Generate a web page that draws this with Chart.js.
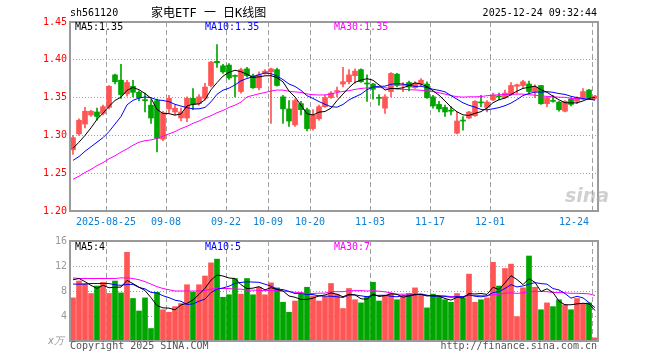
<!DOCTYPE html>
<html>
<head>
<meta charset="utf-8">
<script src="https://cdn.jsdelivr.net/npm/chart.js@4.4.1/dist/chart.umd.min.js"></script>
<style>
  body { margin: 0; background: #fff; }
  #wrap { position: relative; width: 660px; height: 360px; overflow: hidden; font-family: 'DejaVu Sans Mono', monospace; font-size: 10px; }
  #wrap canvas { position: absolute; left: 0; }
  .t { position: absolute; white-space: pre; line-height: 12px; height: 12px; }
</style>
</head>
<body>
<div id="wrap">
  <canvas id="kline" width="660" height="232" style="top:0"></canvas>
  <canvas id="vol" width="660" height="128" style="top:232px"></canvas>

  <div class="t" style="left:70px;top:7px;color:#000">sh561120</div>
  <div class="t" style="left:151px;top:6px;line-height:14px;height:14px;font-size:12px;font-family:'DejaVu Sans Mono','Noto Sans CJK SC';color:#000">家电ETF 一 日K线图</div>
  <div class="t" style="right:63px;top:7px;color:#000">2025-12-24 09:32:44</div>

  <div class="t" style="left:75px;top:21px;color:#000">MA5:1.35</div>
  <div class="t" style="left:205px;top:21px;color:#0000ff">MA10:1.35</div>
  <div class="t" style="left:334px;top:21px;color:#ff00ff">MA30:1.35</div>

  <div class="t" style="left:565px;top:184px;font:italic bold 19px 'DejaVu Sans';line-height:22px;height:22px;color:rgba(170,170,170,0.55)">sina</div>

  <div class="t" style="left:75px;top:241px;color:#000">MA5:4</div>
  <div class="t" style="left:205px;top:241px;color:#0000ff">MA10:5</div>
  <div class="t" style="left:334px;top:241px;color:#ff00ff">MA30:7</div>

  <div class="t" style="left:48px;top:335px;color:#999;font-style:italic">x万</div>
  <div class="t" style="left:70px;top:340px;color:#555">Copyright 2025 SINA.COM</div>
  <div class="t" style="right:63px;top:340px;color:#555">http://finance.sina.com.cn</div>
</div>

<script>
// 交易日 2025-08-15 ~ 2025-12-24
const dates = [
  '08-15','08-18','08-19','08-20','08-21','08-22','08-25','08-26','08-27','08-28','08-29',
  '09-01','09-02','09-03','09-04','09-05','09-08','09-09','09-10','09-11','09-12',
  '09-15','09-16','09-17','09-18','09-19','09-22','09-23','09-24','09-25','09-26','09-29','09-30',
  '10-09','10-10','10-13','10-14','10-15','10-16','10-17','10-20','10-21','10-22','10-23','10-24',
  '10-27','10-28','10-29','10-30','10-31',
  '11-03','11-04','11-05','11-06','11-07','11-10','11-11','11-12','11-13','11-14',
  '11-17','11-18','11-19','11-20','11-21','11-24','11-25','11-26','11-27','11-28',
  '12-01','12-02','12-03','12-04','12-05','12-08','12-09','12-10','12-11','12-12',
  '12-15','12-16','12-17','12-18','12-19','12-22','12-23','12-24'
];

const tickDates = ['08-25','09-08','09-22','10-09','10-20','11-03','11-17','12-01','12-24'];
const tickLabels = ['2025-08-25','09-08','09-22','10-09','10-20','11-03','11-17','12-01','12-24'];

const open = [1.281,1.302,1.315,1.327,1.331,1.329,1.337,1.380,1.373,1.355,
  1.365,1.357,1.347,1.340,1.346,1.295,1.335,1.331,1.323,1.323,
  1.349,1.342,1.349,1.366,1.398,1.392,1.393,1.379,1.358,1.388,
  1.379,1.363,1.382,1.384,1.387,1.351,1.335,1.314,1.342,1.334,
  1.309,1.322,1.338,1.350,1.358,1.368,1.371,1.379,1.387,1.369,
  1.368,1.350,1.336,1.358,1.381,1.366,1.370,1.363,1.368,1.368,
  1.351,1.341,1.337,1.333,1.303,1.320,1.323,1.326,1.344,1.337,
  1.347,1.352,1.350,1.354,1.365,1.366,1.368,1.358,1.366,1.342,
  1.346,1.344,1.332,1.348,1.345,1.350,1.360,1.349];

const high = [1.300,1.322,1.337,1.333,1.336,1.340,1.366,1.381,1.394,1.373,
  1.373,1.359,1.356,1.347,1.348,1.332,1.353,1.340,1.336,1.351,
  1.362,1.354,1.369,1.398,1.420,1.394,1.395,1.380,1.389,1.390,
  1.381,1.384,1.387,1.389,1.389,1.353,1.346,1.348,1.345,1.336,
  1.334,1.340,1.353,1.358,1.364,1.390,1.387,1.388,1.388,1.380,
  1.369,1.354,1.354,1.383,1.382,1.370,1.372,1.371,1.375,1.371,
  1.353,1.345,1.340,1.338,1.331,1.325,1.332,1.346,1.353,1.346,
  1.356,1.356,1.360,1.370,1.368,1.373,1.372,1.367,1.366,1.351,
  1.353,1.345,1.346,1.350,1.351,1.362,1.361,1.353];

const low = [1.275,1.300,1.310,1.325,1.320,1.327,1.335,1.368,1.349,1.352,
  1.351,1.346,1.331,1.316,1.278,1.293,1.330,1.327,1.319,1.318,
  1.334,1.340,1.347,1.364,1.390,1.382,1.374,1.351,1.356,1.377,
  1.362,1.360,1.381,1.316,1.365,1.316,1.312,1.312,1.327,1.306,
  1.307,1.320,1.337,1.349,1.351,1.364,1.368,1.369,1.370,1.345,
  1.348,1.340,1.329,1.351,1.364,1.358,1.359,1.362,1.365,1.349,
  1.336,1.331,1.325,1.327,1.302,1.307,1.322,1.325,1.338,1.331,
  1.346,1.347,1.349,1.353,1.356,1.363,1.356,1.350,1.341,1.338,
  1.344,1.332,1.331,1.339,1.342,1.348,1.349,1.348];

const close = [1.297,1.320,1.332,1.332,1.325,1.338,1.365,1.371,1.354,1.370,
  1.357,1.350,1.346,1.323,1.296,1.330,1.349,1.336,1.331,1.349,
  1.341,1.351,1.364,1.397,1.396,1.384,1.376,1.378,1.387,1.379,
  1.363,1.380,1.385,1.388,1.366,1.335,1.319,1.346,1.334,1.309,
  1.327,1.338,1.350,1.356,1.359,1.371,1.380,1.385,1.371,1.368,
  1.361,1.349,1.351,1.382,1.366,1.367,1.364,1.369,1.373,1.350,
  1.339,1.335,1.331,1.332,1.319,1.319,1.331,1.345,1.343,1.344,
  1.353,1.351,1.356,1.366,1.367,1.371,1.358,1.364,1.342,1.350,
  1.345,1.334,1.345,1.341,1.350,1.358,1.350,1.352];

// 成交量 (万)
const volume = [6.9,9.6,9.2,7.6,8.8,9.4,7.6,9.6,7.7,14.2,
  6.8,4.8,6.9,2.0,7.8,5.0,4.6,5.5,6.0,9.0,
  7.8,9.0,10.4,12.5,13.1,7.0,7.4,10.0,7.5,10.0,
  7.4,8.6,7.4,9.3,8.5,6.2,4.6,6.4,7.5,8.6,
  7.2,6.4,7.1,9.2,7.5,5.2,8.4,6.6,6.1,7.1,
  9.4,6.4,7.3,7.6,6.6,7.1,7.6,8.5,7.5,5.3,
  7.5,7.1,6.6,6.2,7.6,6.9,10.7,6.2,6.6,6.9,
  12.6,8.8,11.6,12.3,3.9,8.5,13.6,8.6,5.0,6.1,
  5.5,6.6,5.8,5.0,6.8,6.0,6.1,0.5];

// 均线起始段 (窗口之前的数据不在图内, 从图上读取)
const ma5Head = [1.283,1.291,1.300,1.310];
const ma10Head = [1.267,1.272,1.279,1.285,1.291,1.297,1.305,1.315,1.325];
const ma30Head = [1.242,1.246,1.251,1.255,1.260,1.264,1.269,1.273,1.278,1.282,
  1.287,1.291,1.293,1.294,1.296,1.299,1.302,1.305,1.309,1.312,
  1.316,1.319,1.323,1.326,1.330,1.333,1.337,1.340,1.344];
const vma5Head = [9.8,10.0,9.5,8.9];
const vma10Head = [9.1,9.1,9.1,9.2,9.2,9.2,9.2,9.0,8.9];
const vma30Head = [10.1,10.0,10.0,10.0,10.0,10.0,10.0,10.0,10.1,10.1,
  10.0,9.8,9.5,9.1,8.7,8.4,8.2,8.0,8.0,8.0,
  8.0,8.0,8.1,8.3,8.4,8.4,8.4,8.3,8.3];

const RED = '#ff5555';
const GREEN = '#00a600';
const GRID = '#a0a0a0';
const BOX = '#9a9a9a';

function movingAvg(arr, n, head) {
  return arr.map((v, i) => {
    if (i < n - 1) return head[i];
    let s = 0;
    for (let k = i - n + 1; k <= i; k++) s += arr[k];
    return s / n;
  });
}

const upDown = dates.map((d, i) => close[i] >= open[i] ? RED : GREEN);
const tickIdx = tickDates.map(d => dates.indexOf(d));

Chart.defaults.font.family = "'DejaVu Sans Mono', monospace";
Chart.defaults.font.size = 10;

// 外框
const boxPlugin = {
  id: 'box',
  afterDraw(chart) {
    const a = chart.chartArea;
    const c = chart.ctx;
    c.save();
    c.strokeStyle = BOX;
    c.lineWidth = 2;
    c.strokeRect(a.left, a.top, a.right - a.left, a.bottom - a.top);
    c.restore();
  }
};

function xScale(showLabels) {
  return {
    offset: true,
    grid: {
      offset: true,
      drawTicks: false,
      lineWidth: 1,
      color: ctx => tickIdx.includes(ctx.index) ? GRID : 'rgba(0,0,0,0)'
    },
    border: { display: false, dash: [5, 3] },
    ticks: {
      display: showLabels,
      autoSkip: false,
      maxRotation: 0,
      padding: 5,
      labelOffset: -3,
      color: '#0a7fd8',
      callback: (v, i) => {
        const k = tickIdx.indexOf(i);
        if (k < 0) return '';
        return k === tickIdx.length - 1 ? tickLabels[k] + '      ' : tickLabels[k];
      }
    },
    afterFit: s => { s.height = showLabels ? 21 : 19; }
  };
}

const baseOpts = {
  responsive: false,
  animation: false,
  events: [],
  plugins: { legend: { display: false }, tooltip: { enabled: false } }
};

function line(data, color) {
  return { type: 'line', data, borderColor: color, borderWidth: 1, pointRadius: 0, tension: 0, order: 0 };
}

new Chart(document.getElementById('kline'), {
  type: 'bar',
  data: {
    labels: dates,
    datasets: [
      line(movingAvg(close, 5, ma5Head), '#000000'),
      line(movingAvg(close, 10, ma10Head), '#0000ff'),
      line(movingAvg(close, 30, ma30Head), '#ff00ff'),
      {
        data: dates.map((d, i) => [low[i], high[i]]),
        backgroundColor: upDown,
        barThickness: 1,
        grouped: false,
        order: 2
      },
      {
        data: dates.map((d, i) => [open[i], close[i]]),
        backgroundColor: upDown,
        barThickness: 5,
        minBarLength: 1,
        grouped: false,
        order: 1
      }
    ]
  },
  options: {
    ...baseOpts,
    layout: { padding: { left: 0, right: 62, top: 22, bottom: 0 } },
    scales: {
      x: xScale(true),
      y: {
        min: 1.2,
        max: 1.45,
        ticks: { stepSize: 0.05, color: '#ff0000', padding: 3, callback: v => v.toFixed(2) },
        grid: {
          drawTicks: false,
          color: ctx => (ctx.tick && (ctx.tick.value <= 1.2001 || ctx.tick.value >= 1.4499)) ? 'rgba(0,0,0,0)' : GRID
        },
        border: { display: false, dash: [1, 2] },
        afterFit: s => { s.width = 70; }
      }
    }
  },
  plugins: [boxPlugin]
});

new Chart(document.getElementById('vol'), {
  type: 'bar',
  data: {
    labels: dates,
    datasets: [
      line(movingAvg(volume, 5, vma5Head), '#000000'),
      line(movingAvg(volume, 10, vma10Head), '#0000ff'),
      line(movingAvg(volume, 30, vma30Head), '#ff00ff'),
      {
        data: volume,
        backgroundColor: upDown,
        barThickness: 5,
        order: 1
      }
    ]
  },
  options: {
    ...baseOpts,
    layout: { padding: { left: 0, right: 62, top: 8, bottom: 0 } },
    scales: {
      x: xScale(false),
      y: {
        min: 0,
        max: 16,
        ticks: { stepSize: 4, color: '#999999', padding: 3, callback: v => v === 0 ? '' : v },
        grid: {
          drawTicks: false,
          color: ctx => (ctx.tick && (ctx.tick.value === 0 || ctx.tick.value === 16)) ? 'rgba(0,0,0,0)' : GRID
        },
        border: { display: false, dash: [1, 2] },
        afterFit: s => { s.width = 70; }
      }
    }
  },
  plugins: [boxPlugin]
});
</script>
</body>
</html>
